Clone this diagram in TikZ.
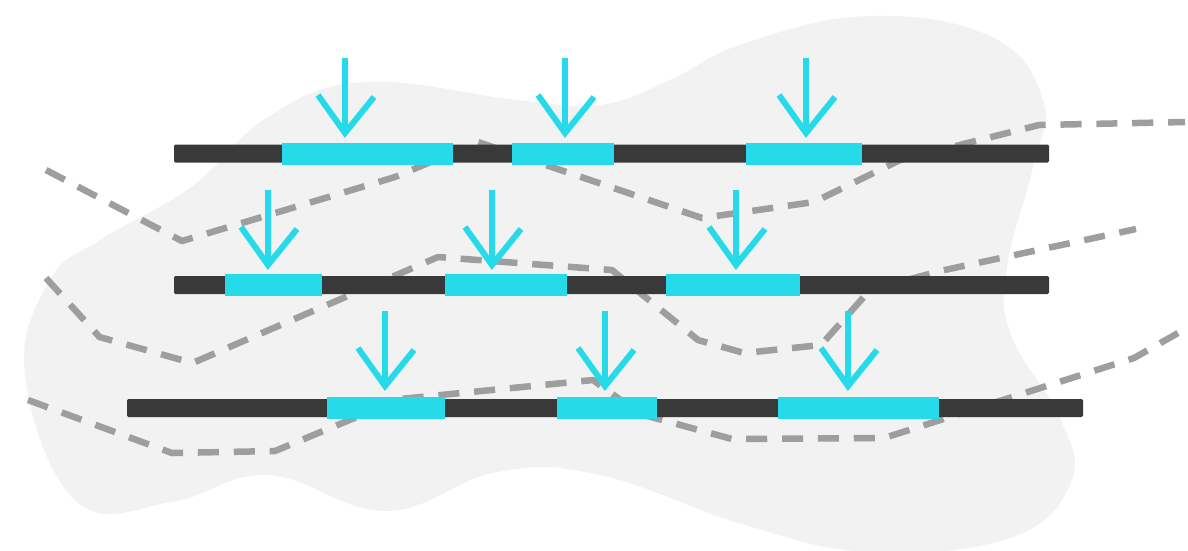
\documentclass[tikz,border=0pt]{standalone}
\usetikzlibrary{calc}
\definecolor{blobgray}{HTML}{F2F2F2}
\definecolor{bardark}{HTML}{393939}
\definecolor{barcyan}{HTML}{26DAEA}
\definecolor{trailgray}{HTML}{9E9E9E}
\tikzset{
  trail/.style={draw=trailgray, line width=1.85pt, dash pattern=on 6pt off 4.2pt, line join=round},
  drop/.style={draw=barcyan, line width=1.7pt},
}
\begin{document}
\begin{tikzpicture}[x=0.01cm, y=-0.01cm]
    \useasboundingbox (0,0) rectangle (1188,550);

    % background blob
    \fill[blobgray] plot[smooth cycle, tension=0.7] coordinates {
      (50,280) (100,240) (191,187) (268,117) (364,82) (517,100) (600,105)
      (670,80) (745,43) (870,16) (992,37) (1043,100) (1033,167) (1007,267)
      (1011,335) (1060,418) (1071,482) (1010,538) (870,552) (745,525)
      (600,475) (497,472) (386,511) (268,475) (172,502) (77,502) (25,375)};

    % dashed trails
    \draw[trail] (46,170) -- (182,241) -- (395,177) -- (478,142) -- (702,218)
      -- (814,202) -- (900,160) -- (1039,125) -- (1185,122);
    \draw[trail] (46,278) -- (99.5,337) -- (192.5,363) -- (438,257) -- (612,270)
      -- (698,340) -- (744,353) -- (821,345) -- (870,290) -- (940,271) -- (1136,229);
    \draw[trail] (28,400) -- (172,453) -- (275,451) -- (400,399) -- (593,380)
      -- (640,414) -- (732,439) -- (884,438) -- (1134,358) -- (1178,333);

    % dark bars
    \foreach \yc/\xa/\xb in {153.5/174/1049, 285/174/1049, 408/127/1083}
      \fill[bardark, rounded corners=0.4pt] (\xa,\yc-9) rectangle (\xb,\yc+9);

    % cyan segments
    \foreach \yc/\xa/\xb in {153.5/282/453, 153.5/512/614, 153.5/746/862,
                             285/225/322, 285/445/567, 285/666/800,
                             408/327/445, 408/557/657, 408/778/939}
      \fill[barcyan] (\xa,\yc-11) rectangle (\xb,\yc+11);

    % arrows
    \foreach \x/\t in {345/58, 565/58, 806/58,
                       268/190, 492/190, 736/190,
                       385/311, 605/311, 848/311} {
      \draw[drop] (\x,\t) -- (\x,\t+75);
      \draw[drop] (\x-27,\t+37) -- (\x,\t+75) -- (\x+29,\t+39);
    }
\end{tikzpicture}
\end{document}
